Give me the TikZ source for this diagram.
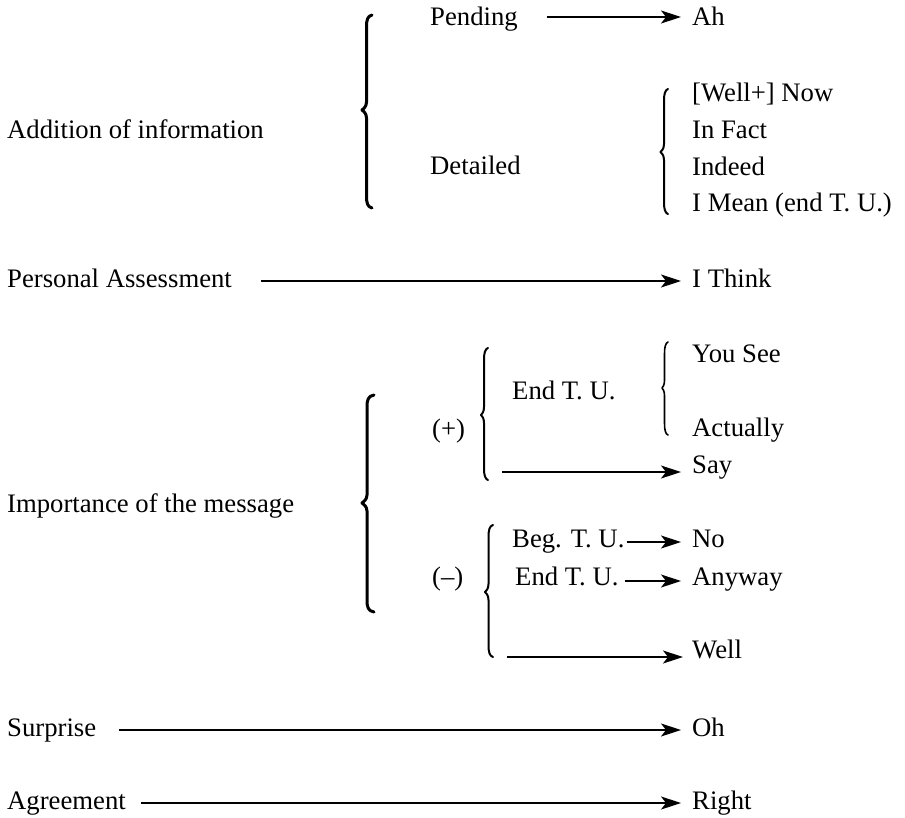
\documentclass[tikz,border=0pt]{standalone}
\usepackage{fontspec}
\setmainfont{Liberation Serif}
\usetikzlibrary{arrows.meta}

% left curly brace: line width, end x, stem x, tip x, top y, tip y, bottom y
\newcommand{\openbrace}[7]{%
  \draw[line width=#1, line cap=round, line join=round]
    (#2,#5) .. controls ({#3+1},{#5+1}) and (#3,{#5+5}) .. (#3,{#5+12})
    -- (#3,{#6-8}) .. controls (#3,{#6-3}) and ({#4+1},{#6-1}) .. (#4,#6)
    .. controls ({#4+1},{#6+1}) and (#3,{#6+3}) .. (#3,{#6+8})
    -- (#3,{#7-12}) .. controls (#3,{#7-5}) and ({#3+1},{#7-1}) .. (#2,#7);}

\tikzset{
  lbl/.style={anchor=base west, inner sep=0pt, font=\fontsize{26.7}{32}\selectfont},
  arr/.style={-{Stealth[length=20pt,width=13pt,inset=5pt]}, line width=1.2pt},
}

\begin{document}
\begin{tikzpicture}[x=1pt, y=-1pt]
\useasboundingbox (0,0) rectangle (905,817);

% --- Addition of information
\node[lbl] (add)    at (7,138)   {Addition of information};
\node[lbl] (pend)   at (430,25)  {Pending};
\node[lbl] (ah)     at (692,25)  {Ah};
\node[lbl] (det)    at (430,174) {Detailed};
\node[lbl] (now)    at (692,101) {[Well+] Now};
\node[lbl] (fact)   at (692,138) {In Fact};
\node[lbl] (indeed) at (692,175) {Indeed};
\node[lbl] (mean)   at (692,211) {I Mean (end T. U.)};
\openbrace{3pt}{372}{366.5}{362}{15}{110}{208}
\openbrace{2pt}{668}{664}{660.5}{89}{152}{214}
\draw[arr, shorten <=29pt, shorten >=11pt] ([yshift=8pt]pend.base east) -- ([yshift=8pt]ah.base west);

% --- Personal assessment
\node[lbl] (pers)  at (7,287)   {Personal Assessment};
\node[lbl] (think) at (692,287) {I Think};
\draw[arr, shorten <=29pt, shorten >=11pt] ([yshift=6pt]pers.base east) -- ([yshift=6pt]think.base west);

% --- Importance of the message
\node[lbl] (imp)      at (7,512)   {Importance of the message};
\node[lbl] (plus)     at (432,437) {(+)};
\node[lbl] (endp)     at (512,399) {End T. U.};
\node[lbl] (see)      at (692,362) {You See};
\node[lbl] (actually) at (692,436) {Actually};
\node[lbl] (say)      at (692,473) {Say};
\node[lbl] (minus)    at (432,585) {(–)};
\node[lbl] (beg)      at (512,547) {Beg. T. U.};
\node[lbl] (no)       at (692,547) {No};
\node[lbl] (endm)     at (515,585) {End T. U.};
\node[lbl] (anyway)   at (692,585) {Anyway};
\node[lbl] (well)     at (692,658) {Well};
\openbrace{3pt}{374}{367}{362}{395}{503}{612}
\openbrace{2pt}{488}{484}{481}{348}{415}{480}
\openbrace{1.6pt}{668}{664.5}{662}{342}{388}{435}
\openbrace{2pt}{493}{488.5}{485}{525}{592}{657}
\coordinate (sayS)  at (502,472);
\coordinate (wellS) at (507,657);
\draw[arr, shorten >=11pt] (sayS) -- (say.base west |- sayS);
\draw[arr, shorten <=2pt, shorten >=11pt] ([yshift=5pt]beg.base east) -- ([yshift=5pt]no.base west);
\draw[arr, shorten <=6pt, shorten >=11pt] ([yshift=4pt]endm.base east) -- ([yshift=4pt]anyway.base west);
\draw[arr, shorten >=9pt] (wellS) -- (well.base west |- wellS);

% --- Surprise and agreement
\node[lbl] (surp)  at (7,736)   {Surprise};
\node[lbl] (oh)    at (692,736) {Oh};
\node[lbl] (agr)   at (7,809)   {Agreement};
\node[lbl] (right) at (692,809) {Right};
\draw[arr, shorten <=23pt, shorten >=11pt] ([yshift=6pt]surp.base east) -- ([yshift=6pt]oh.base west);
\draw[arr, shorten <=15pt, shorten >=11pt] ([yshift=6pt]agr.base east) -- ([yshift=6pt]right.base west);
\end{tikzpicture}
\end{document}
